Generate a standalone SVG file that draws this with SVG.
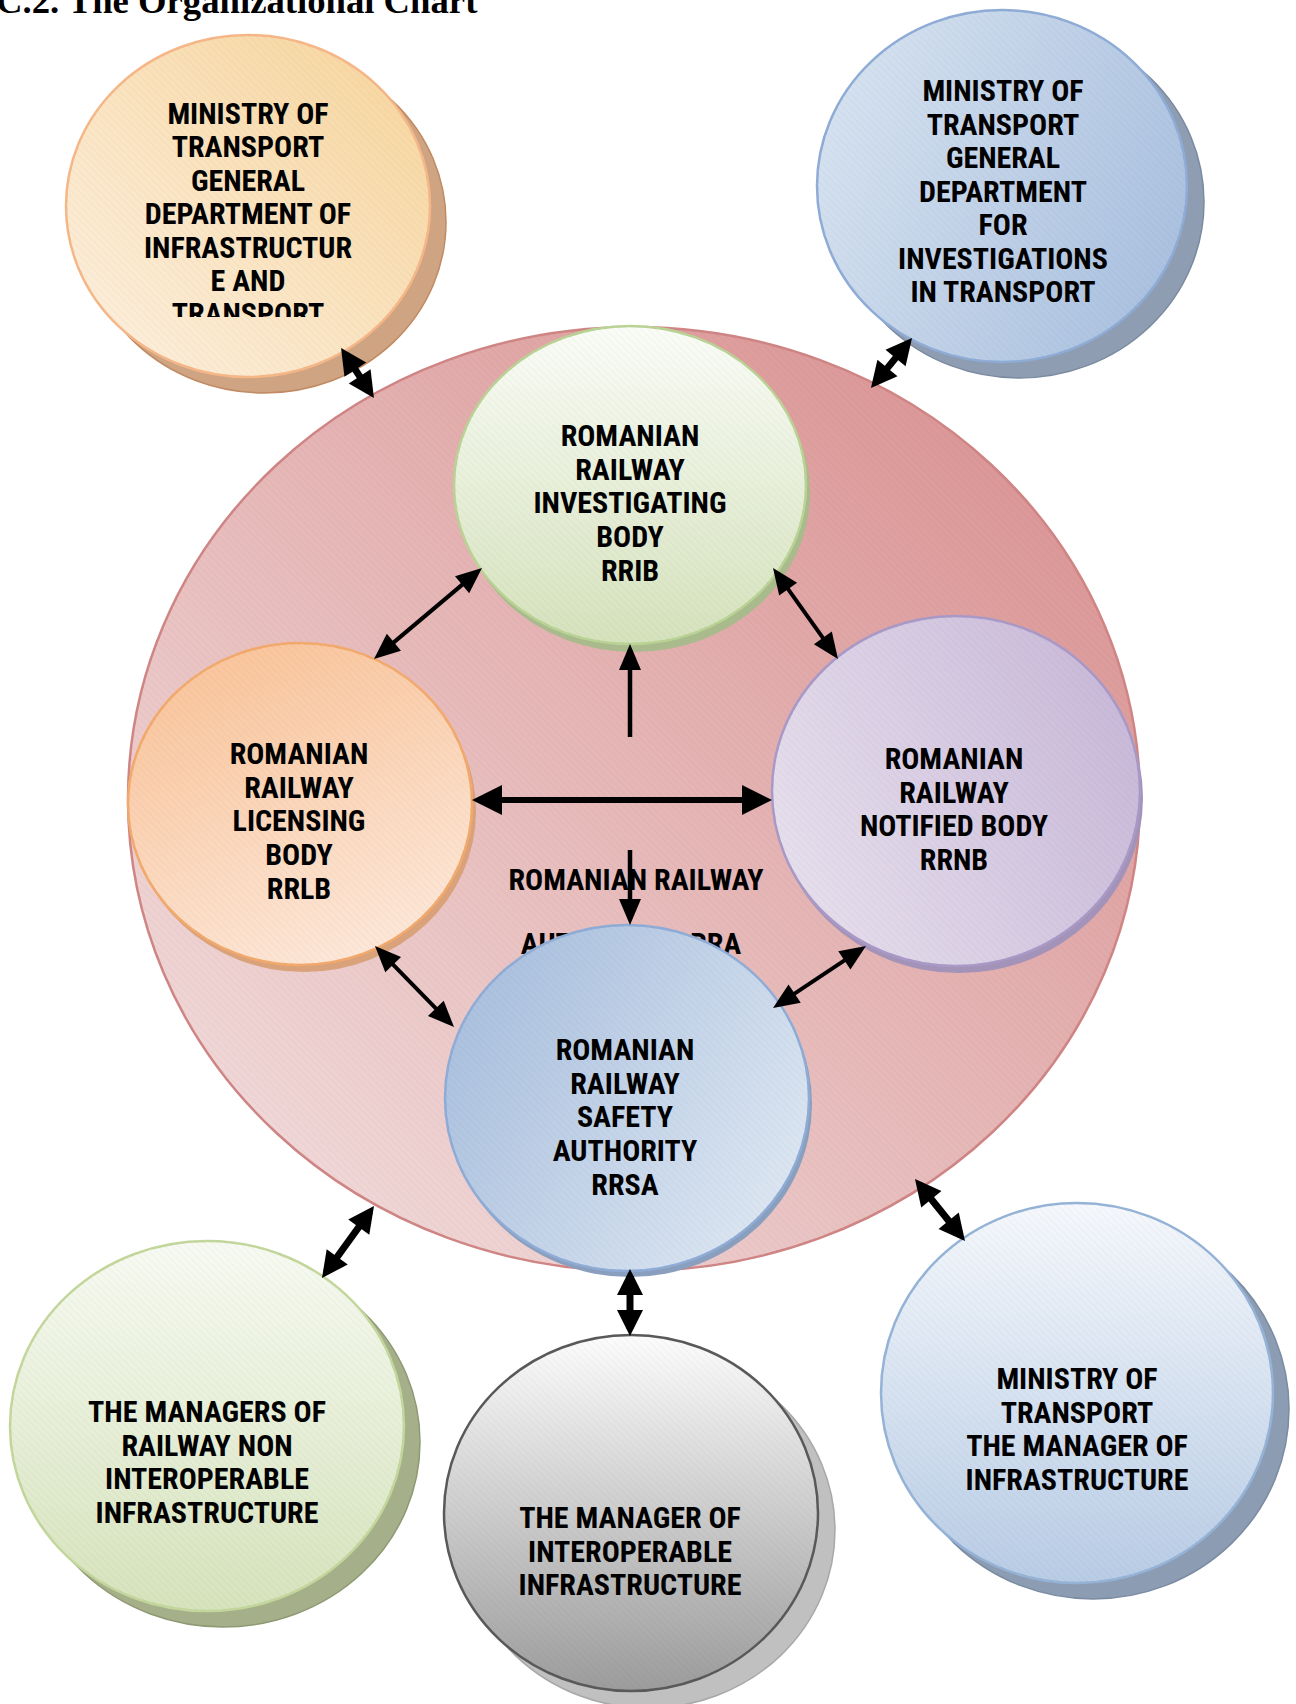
<svg xmlns="http://www.w3.org/2000/svg" width="1296" height="1704" viewBox="0 0 1296 1704">
<defs>
<style>
.t{font-family:"Liberation Sans Narrow","Arial Narrow","Roboto Condensed",sans-serif;font-weight:bold;font-size:30px;fill:#000;text-anchor:middle}
.title{font-family:"Liberation Serif","Times New Roman",serif;font-weight:bold;font-size:36.7px;fill:#000}
.c{stroke:#000;fill:none}
.hatch{fill:url(#hatch)}
</style>
<pattern id="hatch" width="5" height="5" patternUnits="userSpaceOnUse" patternTransform="rotate(-45)">
<line x1="0" y1="0" x2="0" y2="5" stroke="#000" stroke-opacity="0.05" stroke-width="1"/>
</pattern>
<linearGradient id="gOrTL" x1="0" y1="1" x2="1" y2="0"><stop offset="0" stop-color="#FDF1E2"/><stop offset="1" stop-color="#F7D49A"/></linearGradient>
<linearGradient id="gBlTR" x1="0" y1="0.3" x2="1" y2="0.7"><stop offset="0" stop-color="#D6E2F0"/><stop offset="1" stop-color="#A9C0DF"/></linearGradient>
<linearGradient id="gPink" x1="0.1" y1="0.9" x2="0.9" y2="0.1"><stop offset="0" stop-color="#F1DADA"/><stop offset="1" stop-color="#DB9494"/></linearGradient>
<linearGradient id="gRRIB" x1="0" y1="0" x2="0" y2="1"><stop offset="0" stop-color="#FAFCF7"/><stop offset="1" stop-color="#D5E2BC"/></linearGradient>
<linearGradient id="gRRLB" x1="0.3" y1="0" x2="0.7" y2="1"><stop offset="0" stop-color="#F9C49A"/><stop offset="1" stop-color="#FDE8DA"/></linearGradient>
<linearGradient id="gRRNB" x1="0" y1="0.6" x2="1" y2="0.2"><stop offset="0" stop-color="#E5DEEC"/><stop offset="1" stop-color="#C8B7D8"/></linearGradient>
<linearGradient id="gRRSA" x1="0" y1="0.2" x2="1" y2="0.8"><stop offset="0" stop-color="#A7BEDD"/><stop offset="1" stop-color="#DFE8F3"/></linearGradient>
<linearGradient id="gGrBL" x1="0" y1="0" x2="0" y2="1"><stop offset="0" stop-color="#F7FAF2"/><stop offset="1" stop-color="#D6E3BC"/></linearGradient>
<linearGradient id="gGray" x1="0" y1="0" x2="0" y2="1"><stop offset="0" stop-color="#FCFCFC"/><stop offset="1" stop-color="#9C9C9C"/></linearGradient>
<linearGradient id="gBlBR" x1="0" y1="0" x2="0" y2="1"><stop offset="0" stop-color="#F5F8FC"/><stop offset="1" stop-color="#B8CCE5"/></linearGradient>
<clipPath id="clipTL"><rect x="0" y="0" width="500" height="317"/></clipPath>
<marker id="hs" markerUnits="userSpaceOnUse" markerWidth="26" markerHeight="22" refX="20" refY="11" orient="auto-start-reverse" overflow="visible"><path d="M0,0 L26,11 L0,22 z" fill="#000"/></marker>
<marker id="hl" markerUnits="userSpaceOnUse" markerWidth="30" markerHeight="30" refX="24" refY="15" orient="auto-start-reverse" overflow="visible"><path d="M0,0 L30,15 L0,30 z" fill="#000"/></marker>
<marker id="ho" markerUnits="userSpaceOnUse" markerWidth="26" markerHeight="26" refX="19" refY="13" orient="auto-start-reverse" overflow="visible"><path d="M0,0 L26,13 L0,26 z" fill="#000"/></marker>
</defs>
<rect x="0" y="0" width="1296" height="1704" fill="#fff"/>
<text class="title" x="-4" y="13">C.2. The Organizational Chart</text>

<g id="ministry-infrastructure">
<ellipse cx="264" cy="222" rx="182" ry="171" fill="#CFA482" stroke="#C08A62" stroke-width="1.5"/>
<ellipse cx="248" cy="206" rx="182" ry="171" fill="url(#gOrTL)" stroke="#F6B788" stroke-width="2.5"/>
<ellipse class="hatch" cx="248" cy="206" rx="182" ry="171"/>
<text class="t" clip-path="url(#clipTL)"><tspan x="248" y="124">MINISTRY OF</tspan><tspan x="248" dy="33.4">TRANSPORT</tspan><tspan x="248" dy="33.4">GENERAL</tspan><tspan x="248" dy="33.4">DEPARTMENT OF</tspan><tspan x="248" dy="33.4">INFRASTRUCTUR</tspan><tspan x="248" dy="33.4">E AND</tspan><tspan x="248" dy="33.4">TRANSPORT</tspan></text>
</g>

<g id="ministry-investigations">
<ellipse cx="1019" cy="202" rx="185" ry="176" fill="#8E9DB2" stroke="#7A8AA0" stroke-width="1.5"/>
<ellipse cx="1002" cy="186" rx="185" ry="176" fill="url(#gBlTR)" stroke="#8EACD6" stroke-width="2.5"/>
<ellipse class="hatch" cx="1002" cy="186" rx="185" ry="176"/>
<text class="t"><tspan x="1003" y="101">MINISTRY OF</tspan><tspan x="1003" dy="33.5">TRANSPORT</tspan><tspan x="1003" dy="33.5">GENERAL</tspan><tspan x="1003" dy="33.5">DEPARTMENT</tspan><tspan x="1003" dy="33.5">FOR</tspan><tspan x="1003" dy="33.5">INVESTIGATIONS</tspan><tspan x="1003" dy="33.5">IN TRANSPORT</tspan></text>
</g>

<g id="managers-non-interoperable">
<ellipse cx="223" cy="1442" rx="197" ry="185" fill="#A5B08A" stroke="#8F9A74" stroke-width="1.5"/>
<ellipse cx="207" cy="1426" rx="197" ry="185" fill="url(#gGrBL)" stroke="#C3D69B" stroke-width="2.5"/>
<ellipse class="hatch" cx="207" cy="1426" rx="197" ry="185"/>
<text class="t"><tspan x="207" y="1422">THE MANAGERS OF</tspan><tspan x="207" dy="33.7">RAILWAY NON</tspan><tspan x="207" dy="33.7">INTEROPERABLE</tspan><tspan x="207" dy="33.7">INFRASTRUCTURE</tspan></text>
</g>

<g id="manager-interoperable">
<ellipse cx="648" cy="1530" rx="187" ry="178" fill="#C0C0C0" stroke="#A8A8A8" stroke-width="1.5"/>
<ellipse cx="631" cy="1513" rx="187" ry="178" fill="url(#gGray)" stroke="#595959" stroke-width="2.5"/>
<ellipse class="hatch" cx="631" cy="1513" rx="187" ry="178"/>
<text class="t"><tspan x="630" y="1528">THE MANAGER OF</tspan><tspan x="630" dy="33.7">INTEROPERABLE</tspan><tspan x="630" dy="33.7">INFRASTRUCTURE</tspan></text>
</g>

<g id="ministry-manager-infrastructure">
<ellipse cx="1093" cy="1409" rx="196" ry="190" fill="#8C9DB3" stroke="#7A8BA2" stroke-width="1.5"/>
<ellipse cx="1077" cy="1393" rx="196" ry="190" fill="url(#gBlBR)" stroke="#95B3D7" stroke-width="2.5"/>
<ellipse class="hatch" cx="1077" cy="1393" rx="196" ry="190"/>
<text class="t"><tspan x="1077" y="1389">MINISTRY OF</tspan><tspan x="1077" dy="33.7">TRANSPORT</tspan><tspan x="1077" dy="33.7">THE MANAGER OF</tspan><tspan x="1077" dy="33.7">INFRASTRUCTURE</tspan></text>
</g>

<g id="rra">
<ellipse cx="634" cy="799" rx="506" ry="472" fill="url(#gPink)" stroke="#D08585" stroke-width="2.5"/>
<ellipse class="hatch" cx="634" cy="799" rx="506" ry="472"/>
<text class="t"><tspan x="636" y="890">ROMANIAN RAILWAY</tspan><tspan x="631" y="954">AUTHORITY - RRA</tspan></text>
</g>

<g id="rrib">
<ellipse cx="634" cy="493" rx="176" ry="159" fill="#A9BA8C"/>
<ellipse cx="630" cy="485" rx="176" ry="159" fill="url(#gRRIB)" stroke="#B9D394" stroke-width="2.5"/>
<ellipse class="hatch" cx="630" cy="485" rx="176" ry="159"/>
<text class="t"><tspan x="630" y="446">ROMANIAN</tspan><tspan x="630" dy="33.7">RAILWAY</tspan><tspan x="630" dy="33.7">INVESTIGATING</tspan><tspan x="630" dy="33.7">BODY</tspan><tspan x="630" dy="33.7">RRIB</tspan></text>
</g>

<g id="rrlb">
<ellipse cx="304" cy="811" rx="172" ry="161" fill="#D9A27A"/>
<ellipse cx="300" cy="804" rx="172" ry="161" fill="url(#gRRLB)" stroke="#F2A96C" stroke-width="2.5"/>
<ellipse class="hatch" cx="300" cy="804" rx="172" ry="161"/>
<text class="t"><tspan x="299" y="764">ROMANIAN</tspan><tspan x="299" dy="33.7">RAILWAY</tspan><tspan x="299" dy="33.7">LICENSING</tspan><tspan x="299" dy="33.7">BODY</tspan><tspan x="299" dy="33.7">RRLB</tspan></text>
</g>

<g id="rrnb">
<ellipse cx="959" cy="798" rx="184" ry="175" fill="#A493B8"/>
<ellipse cx="956" cy="791" rx="184" ry="175" fill="url(#gRRNB)" stroke="#A999C6" stroke-width="2.5"/>
<ellipse class="hatch" cx="956" cy="791" rx="184" ry="175"/>
<text class="t"><tspan x="954" y="769">ROMANIAN</tspan><tspan x="954" dy="33.5">RAILWAY</tspan><tspan x="954" dy="33.5">NOTIFIED BODY</tspan><tspan x="954" dy="33.5">RRNB</tspan></text>
</g>

<g id="rrsa">
<ellipse cx="630" cy="1104" rx="182" ry="173" fill="#8A9FBE"/>
<ellipse cx="627" cy="1098" rx="182" ry="173" fill="url(#gRRSA)" stroke="#8EACD6" stroke-width="2.5"/>
<ellipse class="hatch" cx="627" cy="1098" rx="182" ry="173"/>
<text class="t"><tspan x="625" y="1060">ROMANIAN</tspan><tspan x="625" dy="33.7">RAILWAY</tspan><tspan x="625" dy="33.7">SAFETY</tspan><tspan x="625" dy="33.7">AUTHORITY</tspan><tspan x="625" dy="33.7">RRSA</tspan></text>
</g>

<g id="connectors">
<line class="c" stroke-width="7" x1="344.9" y1="353.8" x2="370.1" y2="392.2" marker-start="url(#ho)" marker-end="url(#ho)"/>
<line class="c" stroke-width="7" x1="907.6" y1="343.4" x2="875.4" y2="382.6" marker-start="url(#ho)" marker-end="url(#ho)"/>
<line class="c" stroke-width="4" x1="477.4" y1="571.9" x2="378.6" y2="655.1" marker-start="url(#hs)" marker-end="url(#hs)"/>
<line class="c" stroke-width="4" x1="776.5" y1="572.9" x2="834.5" y2="654.1" marker-start="url(#hs)" marker-end="url(#hs)"/>
<line class="c" stroke-width="4.5" x1="630" y1="737" x2="630" y2="650" marker-end="url(#hs)"/>
<line class="c" stroke-width="6" x1="478" y1="800" x2="766" y2="800" marker-start="url(#hl)" marker-end="url(#hl)"/>
<line class="c" stroke-width="4.5" x1="630" y1="850" x2="630" y2="919" marker-end="url(#hs)"/>
<line class="c" stroke-width="4" x1="379.2" y1="950.3" x2="449.8" y2="1022.7" marker-start="url(#hs)" marker-end="url(#hs)"/>
<line class="c" stroke-width="4" x1="861" y1="949.3" x2="778" y2="1004.7" marker-start="url(#hs)" marker-end="url(#hs)"/>
<line class="c" stroke-width="7" x1="369.9" y1="1211.7" x2="326.1" y2="1272.3" marker-start="url(#ho)" marker-end="url(#ho)"/>
<line class="c" stroke-width="7" x1="630" y1="1276" x2="630" y2="1329" marker-start="url(#ho)" marker-end="url(#ho)"/>
<line class="c" stroke-width="7" x1="919.4" y1="1184.5" x2="960.6" y2="1235.5" marker-start="url(#ho)" marker-end="url(#ho)"/>
</g>
</svg>
